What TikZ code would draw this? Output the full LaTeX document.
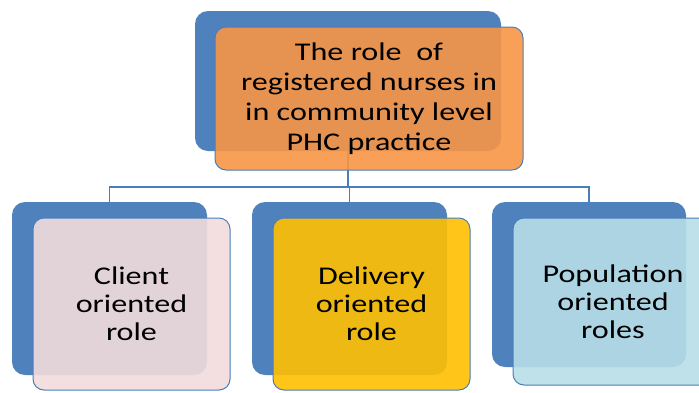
\documentclass[tikz,border=0pt]{standalone}
\usepackage{fontspec}
\setmainfont{Carlito}[FakeStretch=1.26]
\definecolor{backblue}{HTML}{4F81BD}
\definecolor{lineblue}{HTML}{4A7EBB}
\definecolor{orangef}{HTML}{F79646}
\definecolor{pinkf}{HTML}{F2DCDB}
\definecolor{goldf}{HTML}{FFC000}
\definecolor{cyanf}{HTML}{B7DEE8}
\begin{document}
\begin{tikzpicture}[x=1pt,y=-1pt,
  backbox/.style={fill=backblue, draw=none, rounded corners=13pt, anchor=north west, inner sep=0pt, outer sep=0pt},
  frontbox/.style={draw=lineblue, line width=1pt, rounded corners=11pt, fill opacity=0.9, text opacity=1, anchor=north west, align=center, inner sep=0pt, outer sep=0pt},
  conn/.style={draw=lineblue, line width=1.3pt},
  toptext/.style={font=\fontsize{25.5}{30}\selectfont},
  subtext/.style={font=\fontsize{25.5}{28}\selectfont}]
\clip (0,0) rectangle (699,392);
\useasboundingbox (0,0) rectangle (699,392);
% back boxes
\node[backbox, minimum width=306pt, minimum height=140pt] (tb) at (195,11) {};
\node[backbox, minimum width=195pt, minimum height=173pt] (b1) at (12,202) {};
\node[backbox, minimum width=195pt, minimum height=173pt] (b2) at (252,202) {};
\node[backbox, minimum width=194pt, minimum height=165pt] (b3) at (492,202) {};
% connectors
\draw[conn] (tb.south) -- ++(0,36) coordinate (j);
\draw[conn] (j) -| (b1.north);
\draw[conn] (j) -| (b3.north);
\draw[conn] (j) -| (b2.north);
% front boxes
\node[frontbox, fill=orangef, minimum width=308pt, minimum height=143pt, toptext] (tf) at (215,27) {The role\ \ of\\registered nurses in\\in community level\\PHC practice};
\node[frontbox, fill=pinkf, minimum width=197pt, minimum height=172pt, subtext] (f1) at (33,218) {Client\\oriented\\role};
\node[frontbox, fill=goldf, minimum width=197pt, minimum height=172pt, subtext] (f2) at (273,218) {Delivery\\oriented\\role};
\node[frontbox, fill=cyanf, minimum width=200pt, minimum height=167pt, subtext] (f3) at (513,218) {Population\\oriented\\roles};
\end{tikzpicture}
\end{document}
